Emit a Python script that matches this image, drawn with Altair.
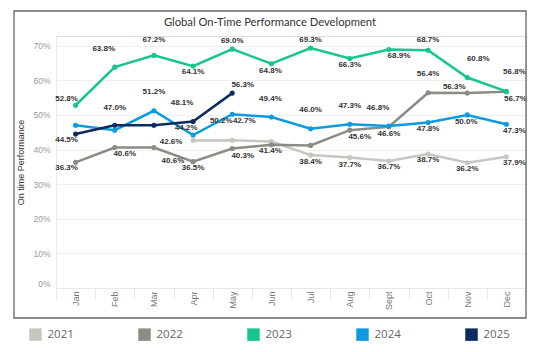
import altair as alt
import pandas as pd

months = ["Jan", "Feb", "Mar", "Apr", "May", "Jun", "Jul", "Aug", "Sept", "Oct", "Nov", "Dec"]
years = ["2021", "2022", "2023", "2024", "2025"]
colors = ["#C6C7C1", "#8C8C84", "#17C58E", "#0C9BDE", "#0C2C5F"]
title_text = "Global On-Time Performance Development"
y_title = "On time Performance"

v2021 = [None, None, None, 42.6, 42.7, 42.3, 38.4, 37.7, 36.7, 38.7, 36.2, 37.9]
v2022 = [36.3, 40.6, 40.6, 36.5, 40.3, 41.4, 41.2, 45.6, 46.6, 56.4, 56.3, 56.7]
v2023 = [52.8, 63.8, 67.2, 64.1, 69.0, 64.8, 69.3, 66.3, 68.9, 68.7, 60.8, 56.8]
v2024 = [47.0, 45.6, 51.2, 44.2, 50.2, 49.4, 46.0, 47.3, 46.8, 47.8, 50.0, 47.3]
v2025 = [44.5, 47.0, 47.0, 48.1, 56.3, None, None, None, None, None, None, None]

# which points carry a data label
show2021 = [0, 0, 0, 1, 1, 0, 1, 1, 1, 1, 1, 1]
show2022 = [1, 1, 1, 1, 1, 1, 0, 1, 1, 1, 1, 1]
show2023 = [1, 1, 1, 1, 1, 1, 1, 1, 1, 1, 1, 1]
show2024 = [0, 0, 1, 1, 1, 1, 1, 1, 1, 1, 1, 1]
show2025 = [1, 1, 0, 1, 1, 0, 0, 0, 0, 0, 0, 0]

# label placement offsets (pixels) relative to each point
dx2021 = [0, 0, 0, -22, 12, 0, 0, 0, 0, 0, 0, 8]
dy2021 = [0, 0, 0, 1.5, -19, 0, 6.6, 7, 6, 6, 6.7, 6]
dx2022 = [-9, 10, 19, 0, 10.5, -1, 0, 10, 0, 0, -13, 9]
dy2022 = [6, 7, 14, 6, 7, 6.4, 0, 7, 7.6, -19, -6.6, 7]
dx2023 = [-9, -11, 0, 0, 0, -1, 0, 0, 10, 0, 11, 8]
dy2023 = [-6, -18.5, -15, 6.3, -8.3, 7, -8, 6.6, 6.3, -9.8, -19, -19.5]
dx2024 = [0, 0, 0, -7, -11, -1, 0, 0, -11, 0, -1, 8]
dy2024 = [0, 0, -19, -7.5, 7, -18.4, -18.5, -18.3, -18.4, 6, 6.6, 6.7]
dx2025 = [-9, 0, 0, -11, 10.5, 0, 0, 0, 0, 0, 0, 0]
dy2025 = [6.4, -17.7, 0, -18.2, -8, 0, 0, 0, 0, 0, 0, 0]

series = [
    ("2021", v2021, show2021, dx2021, dy2021),
    ("2022", v2022, show2022, dx2022, dy2022),
    ("2023", v2023, show2023, dx2023, dy2023),
    ("2024", v2024, show2024, dx2024, dy2024),
    ("2025", v2025, show2025, dx2025, dy2025),
]

rows = []
for yr, vals, show, dxs, dys in series:
    for m, v, s, dx, dy in zip(months, vals, show, dxs, dys):
        if v is None:
            continue
        rows.append({"year": yr, "month": m, "value": v, "show": s,
                     "label": f"{v:.1f}%", "dx": dx, "dy": dy})
df = pd.DataFrame(rows)

W, H = 470, 252
FONT = "Liberation Sans"

x_enc = alt.X("month:N", sort=months, bandPosition=0.5,
              scale=alt.Scale(type="band", paddingInner=0, paddingOuter=0),
              axis=alt.Axis(title=None, labelAngle=270, labelFont=FONT, labelFontSize=9,
                            labelColor="#777777", tickBand="extent", tickSize=11,
                            tickColor="#e6e6e6", labelPadding=-8, domainColor="#e8e8e8",
                            grid=False))
y_enc = alt.Y("value:Q", scale=alt.Scale(domain=[0, 72.8], nice=False, zero=False),
              axis=alt.Axis(title=y_title, values=[0, 10, 20, 30, 40, 50, 60, 70],
                            labelExpr="datum.value + '%'",
                            labelFont=FONT, labelFontSize=8.5, labelColor="#999999",
                            ticks=False, labelPadding=6, labelFlush=True,
                            domainColor="#e8e8e8", gridColor="#efefef",
                            titleFont=FONT, titleFontSize=9, titleColor="#333333",
                            titleFontWeight="normal", titleAngle=270, titleX=-36, titleY=126,
                            titleAlign="center", titleBaseline="middle"))
color_scale = alt.Scale(domain=years, range=colors)

legend = alt.Legend(title=None, orient="none", legendX=-27, legendY=292,
                    direction="horizontal", columns=5,
                    symbolType="square", symbolSize=156,
                    symbolStrokeWidth=0, symbolOpacity=1,
                    labelFont="Open Sans", labelFontSize=11.5,
                    labelColor="#666666", labelOffset=5.5,
                    columnPadding=64, padding=0)

base = alt.Chart(df)

lines = base.mark_line(strokeWidth=2.5).encode(
    x=x_enc, y=y_enc,
    color=alt.Color("year:N", scale=color_scale, legend=legend),
)

points = base.mark_circle(size=26, opacity=1).encode(
    x=x_enc, y=y_enc,
    color=alt.Color("year:N", scale=color_scale, legend=legend),
)

# one text layer per distinct offset pair
label_layers = []
offset_pairs = sorted({(r["dx"], r["dy"]) for r in rows if r["show"] == 1})
for dx, dy in offset_pairs:
    lyr = base.transform_filter(
        f"datum.show == 1 && datum.dx == {dx} && datum.dy == {dy}"
    ).mark_text(font=FONT, fontSize=8, fontWeight="bold", color="#333333",
                align="center", baseline="middle", dx=dx, dy=dy).encode(
        x=x_enc, y=y_enc, text="label:N")
    label_layers.append(lyr)

one = alt.Data(values=[{"a": 1}])
frame = alt.Chart(one).mark_rect(
    filled=False, stroke="#666666", strokeWidth=1.3).encode(
    x=alt.value(-42), x2=alt.value(470), y=alt.value(-25), y2=alt.value(282))

title = alt.Chart(one).mark_text(
    font="Lato", fontSize=11.2, color="#333333", align="center",
    baseline="middle").encode(
    x=alt.value(214), y=alt.value(-12.7), text=alt.value(title_text))

chart = alt.layer(lines, points, *label_layers, frame, title).properties(
    width=W, height=H,
    autosize=alt.AutoSizeParams(type="none"),
    padding={"left": 56, "top": 36, "right": 14, "bottom": 64},
).configure_view(stroke=None).configure(background="white")

chart.save("out.html", embed_options={"renderer": "svg", "actions": False})
